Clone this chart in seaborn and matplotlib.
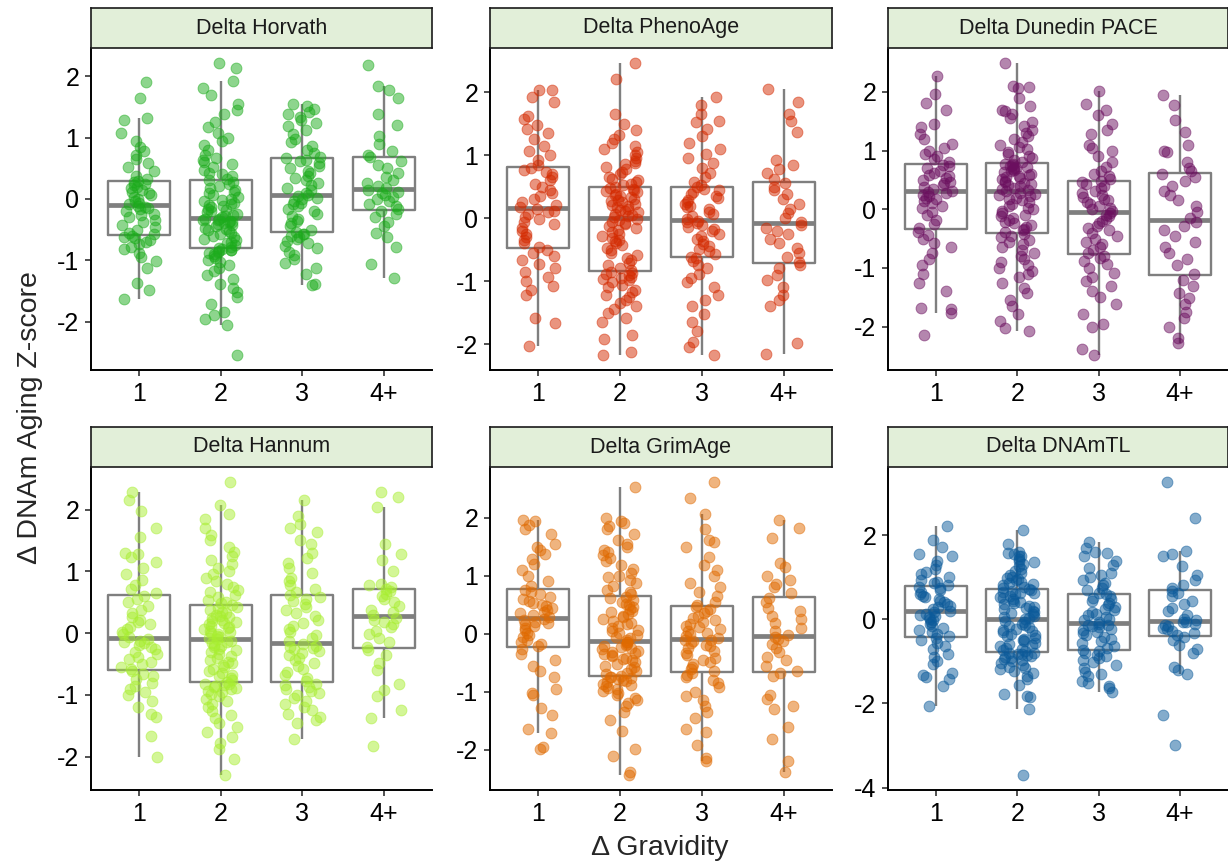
import numpy as np
import pandas as pd
import matplotlib
matplotlib.use("Agg")
import matplotlib.pyplot as plt
import seaborn as sns

# ---------------- data ----------------
groups = ["1", "2", "3", "4+"]
panel_titles = ["Delta Horvath", "Delta PhenoAge", "Delta Dunedin PACE",
                "Delta Hannum", "Delta GrimAge", "Delta DNAmTL"]
panel_colors = ["#1CAC1C", "#D42A00", "#6B0F5F", "#A8EE30", "#E06A00", "#0B5A9A"]

horvath_g1 = [-1.63, -1.48, -1.37, -1.12, -1.02, -0.95, -0.88, -0.82, -0.78, -0.74, -0.70, -0.67, -0.64, -0.62, -0.60,
              -0.58, -0.55, -0.50, -0.46, -0.42, -0.38, -0.35, -0.30, -0.27, -0.24, -0.20, -0.17, -0.15, -0.13, -0.11,
              -0.09, -0.06, -0.03, 0.00, 0.03, 0.06, 0.09, 0.12, 0.14, 0.17, 0.20, 0.22, 0.25, 0.27, 0.29,
              0.32, 0.38, 0.45, 0.52, 0.58, 0.65, 0.72, 0.78, 0.85, 0.95, 1.07, 1.28, 1.32, 1.65, 1.90]
horvath_g2 = [-2.55, -2.06, -1.95, -1.90, -1.85, -1.72, -1.60, -1.52, -1.45, -1.38, -1.30, -1.24, -1.18, -1.12, -1.07,
              -1.03, -0.99, -0.96, -0.93, -0.90, -0.88, -0.86, -0.85, -0.84, -0.83, -0.82,
              -0.80, -0.78, -0.75, -0.72, -0.70, -0.67, -0.65, -0.62, -0.60, -0.58, -0.55, -0.53, -0.51, -0.49, -0.47,
              -0.45, -0.43, -0.41, -0.40, -0.38, -0.37, -0.36, -0.35, -0.34, -0.33, -0.32,
              -0.30, -0.28, -0.26, -0.24, -0.22, -0.20, -0.18, -0.16, -0.14, -0.12, -0.10, -0.08, -0.06, -0.04, -0.02,
              0.00, 0.03, 0.06, 0.09, 0.12, 0.15, 0.18, 0.21, 0.24, 0.27, 0.30,
              0.33, 0.37, 0.40, 0.42, 0.47, 0.52, 0.57, 0.60, 0.63, 0.66, 0.72, 0.80, 0.88, 0.95, 1.00, 1.08,
              1.17, 1.25, 1.38, 1.45, 1.55, 1.70, 1.81, 1.92, 2.14, 2.22]
horvath_g3 = [-1.40, -1.39, -1.22, -1.12, -1.05, -0.98, -0.92, -0.86, -0.80, -0.76, -0.72, -0.68, -0.65, -0.62, -0.60, -0.58, -0.57,
              -0.54, -0.50, -0.45, -0.40, -0.36, -0.32, -0.28, -0.24, -0.20, -0.16, -0.12, -0.09, -0.06, -0.03, 0.00, 0.02, 0.04,
              0.07, 0.10, 0.14, 0.18, 0.22, 0.26, 0.30, 0.34, 0.38, 0.42, 0.46, 0.50, 0.54, 0.58, 0.61, 0.64, 0.66,
              0.69, 0.74, 0.80, 0.86, 0.92, 0.98, 1.05, 1.12, 1.18, 1.24, 1.28, 1.33, 1.38, 1.42, 1.47, 1.51, 1.54]
horvath_g4 = [-1.29, -1.06, -0.78, -0.62, -0.55, -0.45, -0.38, -0.30, -0.25, -0.20,
              -0.17, -0.12, -0.08, -0.04, 0.00, 0.03, 0.06, 0.09, 0.12, 0.14,
              0.17, 0.21, 0.26, 0.30, 0.36, 0.42, 0.50, 0.56, 0.62, 0.68,
              0.72, 0.78, 0.90, 1.02, 1.20, 1.38, 1.65, 1.78, 1.84, 2.18]

pheno_g1 = [-2.03, -1.66, -1.58, -1.22, -1.14, -1.08, -1.00, -0.93, -0.86, -0.80, -0.73, -0.66, -0.60, -0.55, -0.50,
            -0.46, -0.40, -0.35, -0.30, -0.25, -0.20, -0.15, -0.10, -0.06, -0.02, 0.02, 0.06, 0.09, 0.12, 0.14,
            0.17, 0.21, 0.26, 0.30, 0.35, 0.40, 0.45, 0.50, 0.55, 0.60, 0.65, 0.70, 0.74, 0.77, 0.80,
            0.85, 0.92, 1.00, 1.06, 1.15, 1.25, 1.35, 1.42, 1.48, 1.58, 1.62, 1.85, 1.92, 2.03, 2.04]
pheno_g2 = [-2.18, -2.12, -1.92, -1.85, -1.65, -1.58, -1.50, -1.45, -1.40, -1.35, -1.30, -1.25, -1.22, -1.18, -1.14,
            -1.10, -1.06, -1.02, -0.99, -0.97, -0.95, -0.93, -0.91, -0.89, -0.87, -0.86,
            -0.83, -0.79, -0.75, -0.71, -0.67, -0.63, -0.59, -0.55, -0.51, -0.47, -0.43, -0.40, -0.37, -0.34, -0.31,
            -0.28, -0.25, -0.22, -0.19, -0.16, -0.13, -0.10, -0.08, -0.06, -0.03, -0.01,
            0.01, 0.03, 0.05, 0.07, 0.09, 0.11, 0.13, 0.15, 0.17, 0.19, 0.21, 0.23, 0.25, 0.27, 0.29,
            0.31, 0.33, 0.35, 0.37, 0.39, 0.41, 0.43, 0.45, 0.46, 0.48, 0.49,
            0.52, 0.55, 0.58, 0.60, 0.62, 0.66, 0.70, 0.74, 0.78, 0.82, 0.86, 0.88, 0.90, 0.95, 1.00,
            1.05, 1.10, 1.15, 1.20, 1.25, 1.32, 1.40, 1.49, 1.65, 2.21, 2.47]
pheno_g3 = [-2.18, -2.04, -1.96, -1.80, -1.65, -1.52, -1.40, -1.30, -1.22, -1.10, -1.02, -0.95, -0.88, -0.80, -0.74, -0.68, -0.64,
            -0.61, -0.57, -0.53, -0.49, -0.45, -0.41, -0.37, -0.33, -0.29, -0.25, -0.21, -0.18, -0.14, -0.11, -0.08, -0.06, -0.04,
            -0.01, 0.03, 0.07, 0.10, 0.14, 0.17, 0.20, 0.23, 0.26, 0.29, 0.32, 0.35, 0.38, 0.41, 0.44, 0.47, 0.49,
            0.53, 0.58, 0.65, 0.72, 0.80, 0.88, 0.95, 1.02, 1.10, 1.20, 1.30, 1.42, 1.52, 1.55, 1.65, 1.80, 1.93]
pheno_g4 = [-2.16, -1.98, -1.40, -1.30, -1.22, -1.10, -0.98, -0.90, -0.80, -0.74,
            -0.70, -0.62, -0.55, -0.48, -0.40, -0.33, -0.26, -0.20, -0.15, -0.11,
            -0.06, 0.00, 0.08, 0.15, 0.22, 0.30, 0.38, 0.45, 0.50, 0.56,
            0.62, 0.72, 0.78, 0.85, 0.93, 1.37, 1.55, 1.65, 1.85, 2.05]

dunedin_g1 = [-2.14, -1.77, -1.70, -1.68, -1.40, -1.25, -1.10, -0.95, -0.85, -0.75, -0.65, -0.58, -0.50, -0.44, -0.38,
              -0.32, -0.25, -0.18, -0.10, -0.04, 0.02, 0.06, 0.10, 0.14, 0.17, 0.20, 0.23, 0.25, 0.27, 0.29,
              0.32, 0.35, 0.38, 0.41, 0.44, 0.47, 0.50, 0.53, 0.56, 0.59, 0.62, 0.66, 0.70, 0.73, 0.76,
              0.80, 0.85, 0.90, 0.95, 1.00, 1.05, 1.12, 1.20, 1.28, 1.40, 1.45, 1.70, 1.82, 1.97, 2.27]
dunedin_g2 = [-2.08, -2.03, -1.90, -1.78, -1.65, -1.55, -1.42, -1.35, -1.25, -1.15, -1.10, -1.05, -1.00, -0.95, -0.90,
              -0.85, -0.80, -0.75, -0.70, -0.65, -0.60, -0.56, -0.52, -0.48, -0.45, -0.42,
              -0.39, -0.36, -0.33, -0.30, -0.27, -0.24, -0.21, -0.18, -0.15, -0.12, -0.09, -0.06, -0.03, 0.00, 0.03,
              0.06, 0.09, 0.12, 0.15, 0.18, 0.20, 0.22, 0.24, 0.26, 0.28, 0.31,
              0.33, 0.35, 0.37, 0.39, 0.41, 0.43, 0.45, 0.47, 0.49, 0.51, 0.53, 0.55, 0.57, 0.59, 0.61,
              0.63, 0.65, 0.67, 0.68, 0.70, 0.71, 0.72, 0.74, 0.75, 0.77, 0.78,
              0.81, 0.84, 0.87, 0.90, 0.94, 0.98, 1.02, 1.06, 1.10, 1.15, 1.20, 1.25, 1.30, 1.36, 1.42,
              1.48, 1.55, 1.62, 1.70, 1.76, 1.68, 1.90, 2.06, 2.08, 2.11, 2.50]
dunedin_g3 = [-2.49, -2.39, -2.00, -1.95, -1.78, -1.62, -1.50, -1.40, -1.30, -1.22, -1.15, -1.08, -1.00, -0.94, -0.88, -0.83, -0.79,
              -0.75, -0.70, -0.65, -0.60, -0.55, -0.50, -0.45, -0.40, -0.36, -0.32, -0.28, -0.24, -0.20, -0.16, -0.12, -0.09, -0.06,
              -0.03, 0.00, 0.03, 0.06, 0.09, 0.12, 0.15, 0.18, 0.21, 0.25, 0.28, 0.32, 0.36, 0.40, 0.43, 0.46, 0.48,
              0.52, 0.56, 0.60, 0.66, 0.72, 0.80, 0.90, 1.00, 1.05, 1.10, 1.28, 1.35, 1.45, 1.60, 1.70, 1.80, 2.02]
dunedin_g4 = [-2.28, -2.20, -2.00, -1.85, -1.75, -1.62, -1.52, -1.42, -1.30, -1.21,
              -1.10, -0.95, -0.85, -0.75, -0.65, -0.55, -0.45, -0.35, -0.28, -0.21,
              -0.15, -0.05, 0.05, 0.15, 0.25, 0.32, 0.40, 0.48, 0.55, 0.60,
              0.65, 0.70, 0.80, 0.98, 1.00, 1.10, 1.32, 1.52, 1.77, 1.94]

hannum_g1 = [-2.00, -1.66, -1.36, -1.30, -1.20, -1.10, -1.00, -0.95, -0.90, -0.85, -0.80, -0.74, -0.70, -0.66, -0.62,
             -0.58, -0.54, -0.50, -0.46, -0.42, -0.38, -0.34, -0.30, -0.26, -0.22, -0.19, -0.16, -0.14, -0.12, -0.10,
             -0.06, -0.02, 0.02, 0.06, 0.10, 0.14, 0.18, 0.22, 0.26, 0.32, 0.38, 0.44, 0.50, 0.55, 0.60,
             0.65, 0.72, 0.78, 0.86, 0.95, 1.05, 1.15, 1.23, 1.28, 1.30, 1.55, 1.70, 1.98, 2.15, 2.29]
hannum_g2 = [-2.30, -2.03, -1.88, -1.78, -1.68, -1.60, -1.52, -1.45, -1.38, -1.32, -1.26, -1.20, -1.15, -1.10, -1.06,
             -1.02, -0.99, -0.96, -0.93, -0.91, -0.89, -0.87, -0.85, -0.84, -0.83, -0.82,
             -0.79, -0.76, -0.73, -0.70, -0.67, -0.64, -0.61, -0.58, -0.55, -0.52, -0.49, -0.46, -0.43, -0.40, -0.37,
             -0.34, -0.31, -0.28, -0.25, -0.23, -0.21, -0.19, -0.16, -0.14, -0.12, -0.10,
             -0.08, -0.06, -0.04, -0.02, 0.00, 0.02, 0.04, 0.06, 0.08, 0.10, 0.12, 0.14, 0.16, 0.18, 0.20,
             0.22, 0.24, 0.26, 0.28, 0.30, 0.32, 0.35, 0.38, 0.40, 0.43, 0.45,
             0.48, 0.51, 0.54, 0.58, 0.62, 0.66, 0.70, 0.75, 0.80, 0.85, 0.90, 0.95, 1.00, 1.05, 1.12,
             1.18, 1.25, 1.32, 1.40, 1.50, 1.58, 1.70, 1.85, 1.93, 2.07, 2.45]
hannum_g3 = [-1.72, -1.45, -1.40, -1.36, -1.30, -1.25, -1.20, -1.15, -1.10, -1.05, -1.00, -0.97, -0.93, -0.90, -0.87, -0.84, -0.82,
             -0.78, -0.73, -0.68, -0.63, -0.58, -0.53, -0.48, -0.44, -0.40, -0.36, -0.32, -0.29, -0.26, -0.24, -0.22, -0.20, -0.18,
             -0.13, -0.08, -0.03, 0.02, 0.07, 0.12, 0.17, 0.22, 0.27, 0.32, 0.37, 0.42, 0.47, 0.52, 0.56, 0.59, 0.61,
             0.66, 0.72, 0.78, 0.84, 0.90, 0.98, 1.05, 1.13, 1.22, 1.30, 1.45, 1.50, 1.63, 1.70, 1.76, 1.90, 2.15]
hannum_g4 = [-1.82, -1.38, -1.25, -1.02, -0.92, -0.82, -0.60, -0.48, -0.35, -0.28,
             -0.22, -0.15, -0.08, -0.02, 0.04, 0.10, 0.14, 0.18, 0.22, 0.25,
             0.29, 0.34, 0.38, 0.44, 0.50, 0.55, 0.60, 0.64, 0.68, 0.71,
             0.74, 0.78, 0.80, 1.00, 1.18, 1.28, 1.44, 2.04, 2.21, 2.28]

grim_g1 = [-1.98, -1.96, -1.71, -1.65, -1.40, -1.28, -1.05, -1.02, -0.95, -0.75, -0.65, -0.55, -0.45, -0.35, -0.26,
           -0.22, -0.18, -0.14, -0.10, -0.06, -0.02, 0.02, 0.06, 0.10, 0.13, 0.16, 0.19, 0.21, 0.24, 0.26,
           0.29, 0.32, 0.35, 0.38, 0.41, 0.44, 0.47, 0.50, 0.53, 0.56, 0.60, 0.64, 0.68, 0.72, 0.76,
           0.82, 0.90, 1.00, 1.10, 1.20, 1.28, 1.38, 1.45, 1.50, 1.55, 1.72, 1.80, 1.88, 1.95, 1.96]
grim_g2 = [-2.44, -2.38, -2.10, -1.98, -1.68, -1.48, -1.35, -1.25, -1.20, -1.15, -1.10, -1.06, -1.02, -0.99, -0.96,
           -0.93, -0.90, -0.88, -0.86, -0.84, -0.82, -0.80, -0.78, -0.77, -0.75, -0.74,
           -0.72, -0.70, -0.67, -0.64, -0.61, -0.58, -0.55, -0.52, -0.49, -0.46, -0.43, -0.41, -0.39, -0.37, -0.35,
           -0.33, -0.31, -0.29, -0.27, -0.25, -0.23, -0.21, -0.19, -0.17, -0.15, -0.14,
           -0.11, -0.08, -0.05, -0.02, 0.01, 0.04, 0.07, 0.10, 0.13, 0.16, 0.19, 0.22, 0.25, 0.28, 0.31,
           0.34, 0.37, 0.40, 0.43, 0.46, 0.49, 0.52, 0.55, 0.58, 0.61, 0.64,
           0.68, 0.72, 0.76, 0.82, 0.88, 0.92, 0.98, 1.00, 1.05, 1.12, 1.18, 1.25, 1.30, 1.35, 1.40,
           1.45, 1.50, 1.55, 1.62, 1.72, 1.80, 1.85, 1.90, 1.95, 2.00, 2.52]
grim_g3 = [-2.19, -2.15, -1.92, -1.70, -1.65, -1.45, -1.35, -1.25, -1.15, -1.08, -1.00, -0.92, -0.85, -0.80, -0.75, -0.71, -0.68,
           -0.65, -0.61, -0.57, -0.53, -0.49, -0.45, -0.41, -0.37, -0.33, -0.29, -0.25, -0.22, -0.19, -0.16, -0.13, -0.11, -0.10,
           -0.07, -0.04, -0.01, 0.02, 0.05, 0.08, 0.11, 0.14, 0.17, 0.20, 0.23, 0.27, 0.31, 0.35, 0.39, 0.43, 0.46,
           0.50, 0.55, 0.65, 0.72, 0.80, 0.88, 1.00, 1.10, 1.18, 1.32, 1.50, 1.58, 1.62, 1.80, 2.06, 2.34, 2.62]
grim_g4 = [-2.39, -2.20, -1.82, -1.60, -1.30, -1.25, -1.12, -1.05, -0.72, -0.68,
           -0.65, -0.55, -0.45, -0.40, -0.32, -0.25, -0.18, -0.12, -0.09, -0.06,
           -0.02, 0.05, 0.10, 0.18, 0.25, 0.30, 0.40, 0.45, 0.55, 0.61,
           0.70, 0.80, 0.85, 0.92, 1.00, 1.15, 1.22, 1.65, 1.82, 1.96]

tl_g1 = [-2.06, -1.58, -1.42, -1.38, -1.33, -1.28, -1.05, -0.98, -0.90, -0.82, -0.70, -0.62, -0.55, -0.48, -0.43,
         -0.40, -0.35, -0.30, -0.25, -0.20, -0.15, -0.10, -0.06, -0.02, 0.02, 0.05, 0.08, 0.11, 0.14, 0.17,
         0.21, 0.25, 0.29, 0.33, 0.37, 0.41, 0.45, 0.49, 0.53, 0.57, 0.61, 0.65, 0.69, 0.74, 0.78,
         0.82, 0.86, 0.90, 0.95, 1.00, 1.08, 1.12, 1.20, 1.30, 1.40, 1.50, 1.55, 1.72, 1.88, 2.23]
tl_g2 = [-3.71, -2.13, -1.85, -1.82, -1.78, -1.55, -1.42, -1.35, -1.28, -1.22, -1.18, -1.15, -1.12, -1.08, -1.04,
         -1.00, -0.97, -0.94, -0.91, -0.89, -0.87, -0.85, -0.83, -0.82, -0.80, -0.79,
         -0.76, -0.73, -0.70, -0.67, -0.64, -0.61, -0.58, -0.55, -0.52, -0.49, -0.46, -0.43, -0.40, -0.37, -0.34,
         -0.31, -0.28, -0.25, -0.22, -0.19, -0.16, -0.13, -0.10, -0.07, -0.03, 0.00,
         0.03, 0.06, 0.09, 0.12, 0.15, 0.18, 0.21, 0.24, 0.27, 0.30, 0.33, 0.36, 0.39, 0.42, 0.45,
         0.48, 0.51, 0.54, 0.57, 0.60, 0.62, 0.64, 0.66, 0.68, 0.70, 0.72,
         0.75, 0.78, 0.81, 0.84, 0.87, 0.90, 0.93, 0.96, 0.99, 1.02, 1.06, 1.10, 1.15, 1.20, 1.28,
         1.32, 1.36, 1.40, 1.45, 1.50, 1.52, 1.55, 1.58, 1.60, 1.80, 2.14]
tl_g3 = [-1.73, -1.62, -1.58, -1.52, -1.46, -1.35, -1.30, -1.25, -1.15, -1.08, -1.02, -0.97, -0.92, -0.88, -0.84, -0.80, -0.76,
         -0.72, -0.67, -0.62, -0.57, -0.52, -0.47, -0.42, -0.37, -0.33, -0.29, -0.25, -0.22, -0.19, -0.16, -0.14, -0.12, -0.10,
         -0.06, -0.02, 0.02, 0.06, 0.10, 0.14, 0.18, 0.22, 0.26, 0.30, 0.35, 0.40, 0.44, 0.48, 0.52, 0.56, 0.60,
         0.64, 0.70, 0.76, 0.82, 0.88, 0.94, 1.00, 1.05, 1.10, 1.22, 1.30, 1.40, 1.50, 1.58, 1.60, 1.70, 1.85]
tl_g4 = [-2.99, -2.27, -1.29, -1.20, -1.12, -0.80, -0.70, -0.60, -0.50, -0.42,
         -0.38, -0.33, -0.28, -0.22, -0.20, -0.16, -0.12, -0.10, -0.07, -0.05,
         -0.02, 0.02, 0.10, 0.20, 0.28, 0.38, 0.45, 0.55, 0.62, 0.68,
         0.75, 0.82, 0.95, 1.05, 1.28, 1.50, 1.55, 1.63, 2.41, 3.28]

panel_data = [
    [horvath_g1, horvath_g2, horvath_g3, horvath_g4],
    [pheno_g1, pheno_g2, pheno_g3, pheno_g4],
    [dunedin_g1, dunedin_g2, dunedin_g3, dunedin_g4],
    [hannum_g1, hannum_g2, hannum_g3, hannum_g4],
    [grim_g1, grim_g2, grim_g3, grim_g4],
    [tl_g1, tl_g2, tl_g3, tl_g4],
]
panel_yticks = [[-2, -1, 0, 1, 2]] * 5 + [[-4, -2, 0, 2]]

# ---------------- style ----------------
sns.set_theme(style="ticks")
plt.rcParams["font.family"] = ["Liberation Sans", "DejaVu Sans"]
plt.rcParams["axes.unicode_minus"] = False

W, H = 1228, 867
fig = plt.figure(figsize=(W / 100, H / 100), dpi=100)
fig.patch.set_facecolor("white")

col_x = [(91, 432), (490, 832), (888, 1228)]
row_y = [(48, 370), (467, 790)]
strip_h = 40

np.random.seed(7)
for i in range(6):
    r, c = divmod(i, 3)
    x0, x1 = col_x[c]
    y0, y1 = row_y[r]
    ax = fig.add_axes([x0 / W, 1 - y1 / H, (x1 - x0) / W, (y1 - y0) / H])
    sax = fig.add_axes([x0 / W, 1 - y0 / H, (x1 - x0) / W, strip_h / H])

    rows = []
    for g, vals in zip(groups, panel_data[i]):
        rows += [(g, v) for v in vals]
    df = pd.DataFrame(rows, columns=["grav", "z"])

    sns.boxplot(data=df, x="grav", y="z", order=groups, ax=ax, width=0.76,
                fill=False, color="#7F7F7F", linewidth=1.7, showfliers=False,
                whis=1.5, medianprops=dict(linewidth=3.4, color="#7F7F7F"),
                capprops=dict(linewidth=0))
    sns.stripplot(data=df, x="grav", y="z", order=groups, ax=ax, color=panel_colors[i],
                  alpha=0.5, size=7.8, jitter=0.22, linewidth=0.7,
                  edgecolor=panel_colors[i], zorder=3)

    lo, hi = df["z"].min(), df["z"].max()
    pad = 0.05 * (hi - lo)
    ax.set_ylim(lo - pad, hi + pad)
    ax.set_xlim(-0.59, 3.59)
    ax.set_yticks(panel_yticks[i])
    ax.set_yticklabels([str(t) for t in panel_yticks[i]])
    ax.set_xlabel("")
    ax.set_ylabel("")
    for s in ["top", "right"]:
        ax.spines[s].set_visible(False)
    for s in ["left", "bottom"]:
        ax.spines[s].set_linewidth(1.4)
        ax.spines[s].set_color("black")
    ax.tick_params(axis="both", length=4.5, width=1.2, color="#333333",
                   labelsize=18, labelcolor="black", pad=4)
    ax.set_facecolor("white")

    sax.set_facecolor("#E2EFD9")
    sax.set_xticks([])
    sax.set_yticks([])
    for s in sax.spines.values():
        s.set_visible(True)
        s.set_color("#1A1A1A")
        s.set_linewidth(1.2)
    sax.text(0.5, 0.5, panel_titles[i], ha="center", va="center",
             fontsize=15.5, color="#1A1A1A", transform=sax.transAxes)

fig.text(0.5375, 1 - 848 / H, "Δ Gravidity", ha="center", va="center", fontsize=20.5)
fig.text(30 / W, 1 - 418 / H, "Δ DNAm Aging Z-score", ha="center", va="center",
         rotation=90, fontsize=20.5)

fig.savefig("out.png", dpi=100)
